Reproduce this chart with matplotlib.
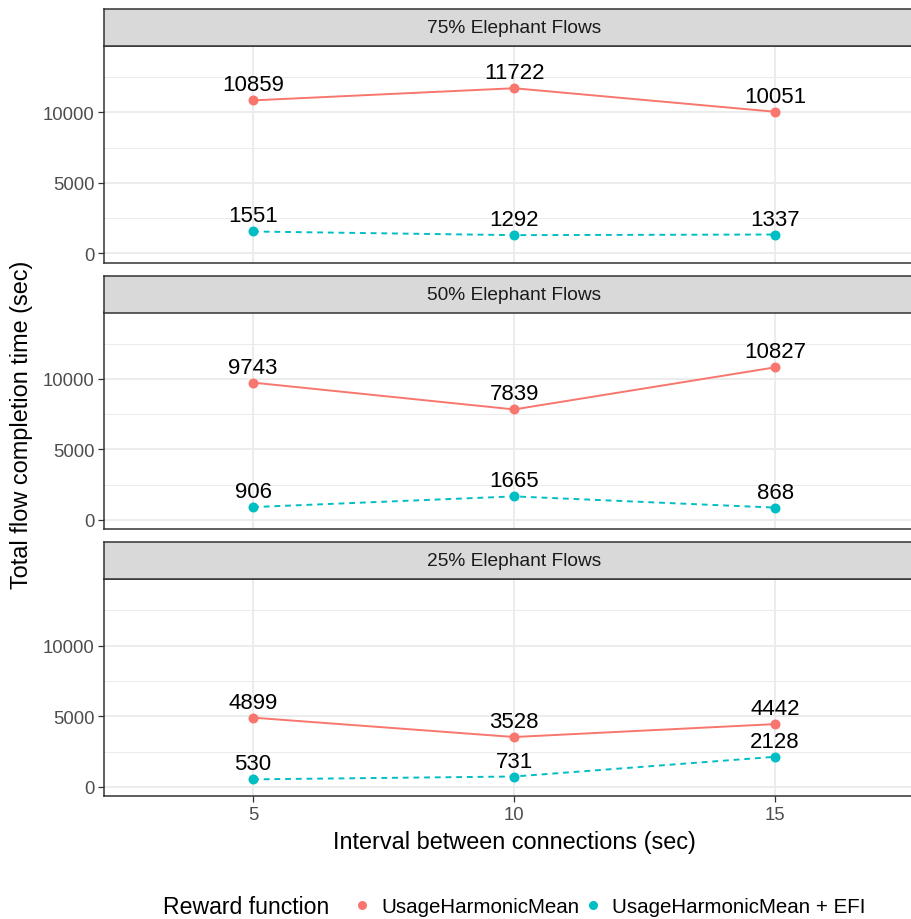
import matplotlib
matplotlib.use("Agg")
import matplotlib.pyplot as plt
from matplotlib.lines import Line2D

# ---------------- data ----------------
intervals = [5, 10, 15]
panels = ["75% Elephant Flows", "50% Elephant Flows", "25% Elephant Flows"]
series_names = ["UsageHarmonicMean", "UsageHarmonicMean + EFI"]
uhm_75 = [10859, 11722, 10051]
efi_75 = [1551, 1292, 1337]
uhm_50 = [9743, 7839, 10827]
efi_50 = [906, 1665, 868]
uhm_25 = [4899, 3528, 4442]
efi_25 = [530, 731, 2128]
y_ticks = [0, 5000, 10000]
y_minor = [2500, 7500, 12500]

panel_data = [(uhm_75, efi_75), (uhm_50, efi_50), (uhm_25, efi_25)]

# ---------------- style ----------------
plt.rcParams['font.family'] = ['Liberation Sans', 'DejaVu Sans']
RED = '#F8766D'
TEAL = '#00BFC4'
GRID = '#EBEBEB'
BORDER = '#333333'
TICKC = '#4D4D4D'

W, H = 912, 920
fig = plt.figure(figsize=(W / 100, H / 100), dpi=100)

left_px = 104.5
right_px = 913
strip_text_center_px = 514.5
# (strip_top, panel_top, panel_bottom) in pixels
layout = [(10, 47, 263.5), (277, 313.5, 530), (543, 580, 797)]


def fx(px):
    return px / W


def fy(py):
    return 1 - py / H


axes = []
for i, (st, pt, pb) in enumerate(layout):
    ax = fig.add_axes([fx(left_px), fy(pb), fx(right_px - left_px), (pb - pt) / H])
    sax = fig.add_axes([fx(left_px), fy(pt), fx(right_px - left_px), (pt - st) / H])
    sax.set_facecolor('#D9D9D9')
    sax.set_xticks([])
    sax.set_yticks([])
    for s in sax.spines.values():
        s.set_color(BORDER)
        s.set_linewidth(1.1)
    sax.text((strip_text_center_px - left_px) / (right_px - left_px), 0.5, panels[i],
             transform=sax.transAxes, ha='center', va='center',
             fontsize=13.8, color='#1A1A1A')

    red_vals, teal_vals = panel_data[i]
    ax.set_xlim(2.155, 17.64)
    ax.set_ylim(-650, 14720)
    ax.set_yticks(y_ticks)
    ax.set_yticks(y_minor, minor=True)
    ax.set_xticks(intervals)
    ax.grid(True, which='major', color=GRID, linewidth=1.3, zorder=0)
    ax.grid(True, which='minor', axis='y', color=GRID, linewidth=0.7, zorder=0)
    ax.set_axisbelow(True)
    ax.tick_params(which='minor', length=0)
    ax.tick_params(which='major', length=4.3, width=0.9, color=BORDER, pad=3,
                   labelsize=13.3, labelcolor=TICKC)
    if i < 2:
        ax.tick_params(axis='x', which='both', length=0, labelbottom=False)
    for s in ax.spines.values():
        s.set_color(BORDER)
        s.set_linewidth(1.1)

    ax.plot(intervals, red_vals, color=RED, lw=1.4, marker='o', markersize=7.2,
            markeredgewidth=0, zorder=3)
    ax.plot(intervals, teal_vals, color=TEAL, lw=1.4, marker='o', markersize=7.2,
            markeredgewidth=0, dashes=(3, 2.5), zorder=3)
    for vals in (red_vals, teal_vals):
        for x, v in zip(intervals, vals):
            ax.annotate(str(v), (x, v), xytext=(0, 7.2), textcoords='offset points',
                        ha='center', va='baseline', fontsize=16, color='black',
                        zorder=4)
    axes.append(ax)

# axis titles
fig.text(fx(514), fy(842), "Interval between connections (sec)", ha='center', va='center',
         fontsize=16.9, color='black')
fig.text(fx(22), fy(425), "Total flow completion time (sec)", ha='center', va='center',
         rotation=90, fontsize=16.9, color='black')

# legend
fig.text(fx(163), fy(908), "Reward function", ha='left', va='center', fontsize=16.6)
handles = [Line2D([], [], color=RED, marker='o', linestyle='None', markersize=6.5,
                  markeredgewidth=0),
           Line2D([], [], color=TEAL, marker='o', linestyle='None', markersize=6.5,
                  markeredgewidth=0)]
fig.legend(handles, series_names, ncol=2, loc='center left',
           bbox_to_anchor=(fx(351.7), fy(908)), frameon=False, fontsize=14.8,
           handlelength=1.0, handletextpad=0.42, columnspacing=0.18,
           borderpad=0, borderaxespad=0)

fig.savefig("out.png", dpi=100)
